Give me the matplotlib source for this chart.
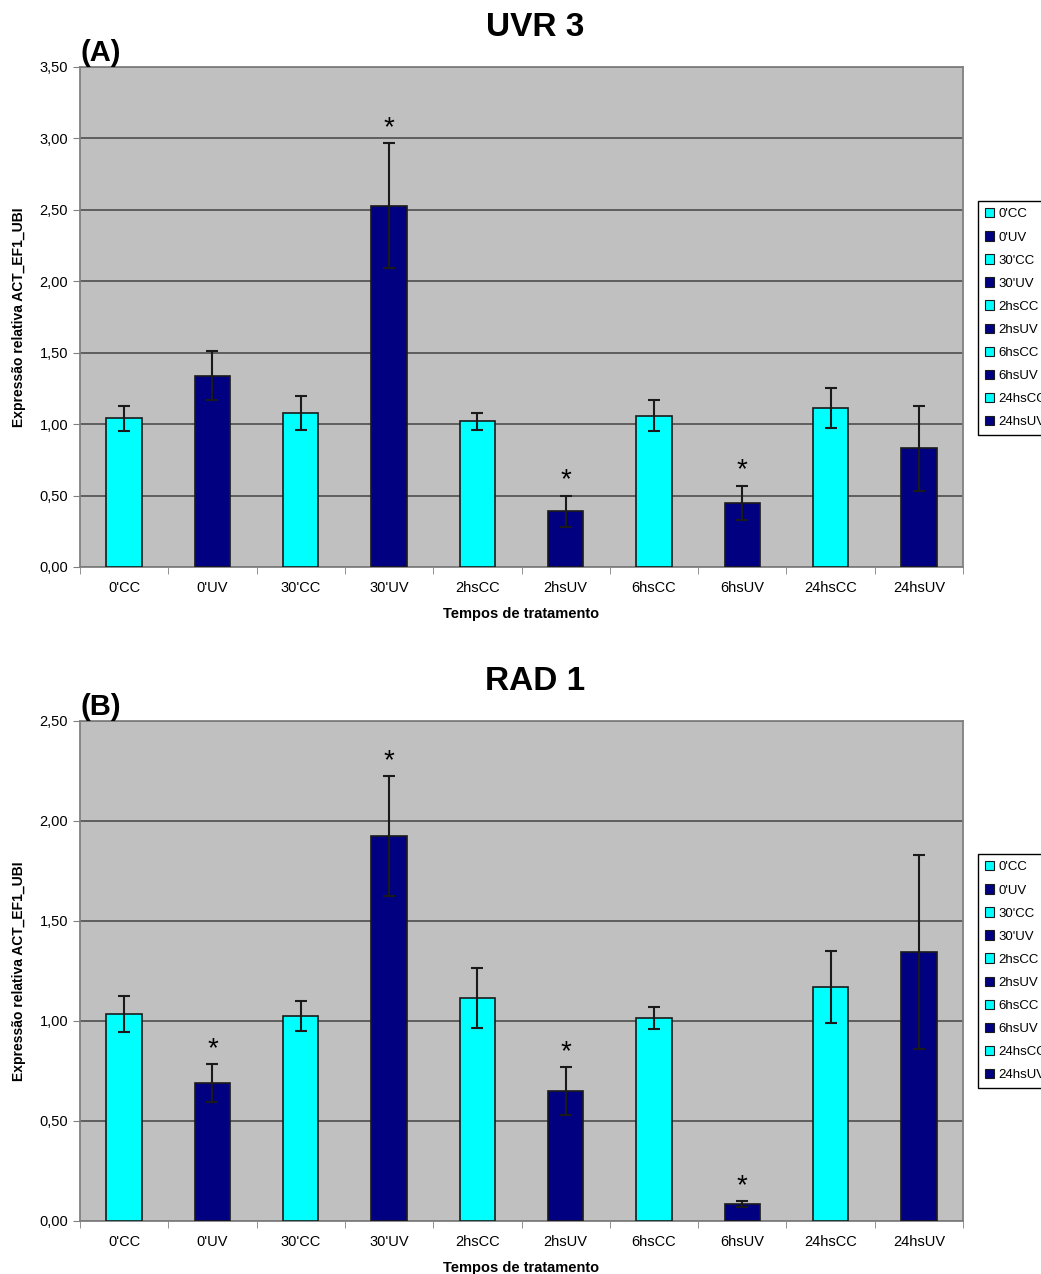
import matplotlib

matplotlib.use("Agg")
import matplotlib.pyplot as plt
from matplotlib.patches import Patch
from matplotlib.ticker import FuncFormatter, MultipleLocator

plt.rcParams["font.family"] = ["Liberation Sans", "DejaVu Sans"]

CATEGORIES = ["0'CC", "0'UV", "30'CC", "30'UV", "2hsCC", "2hsUV", "6hsCC", "6hsUV", "24hsCC", "24hsUV"]

UVR3_VALUES = [1.04, 1.34, 1.08, 2.53, 1.02, 0.39, 1.06, 0.45, 1.11, 0.83]
UVR3_ERRORS = [0.09, 0.17, 0.12, 0.44, 0.06, 0.11, 0.11, 0.12, 0.14, 0.30]
UVR3_STARS = ["30'UV", "2hsUV", "6hsUV"]

RAD1_VALUES = [1.035, 0.69, 1.025, 1.925, 1.115, 0.65, 1.015, 0.085, 1.17, 1.345]
RAD1_ERRORS = [0.09, 0.095, 0.075, 0.30, 0.15, 0.12, 0.055, 0.015, 0.18, 0.485]
RAD1_STARS = ["0'UV", "30'UV", "2hsUV", "6hsUV"]

CYAN = "#00FFFF"
NAVY = "#000080"
BG = "#C0C0C0"
W, H = 1041, 1274


def comma(v, pos):
    return f"{v:.2f}".replace(".", ",")


def panel(ax, values, errors, stars, ymax, title, letter, title_y):
    colors = [CYAN if c.endswith("CC") else NAVY for c in CATEGORIES]
    x = list(range(len(CATEGORIES)))
    ax.set_facecolor(BG)
    ax.bar(x, values, 0.4, color=colors, edgecolor="#1a1a1a", linewidth=1.2, zorder=3)
    ax.errorbar(x, values, yerr=errors, fmt="none", ecolor="#1a1a1a", elinewidth=1.5, capsize=4, capthick=1.5, zorder=4)
    for c in stars:
        i = CATEGORIES.index(c)
        ax.text(i, values[i] + errors[i] + ymax * 0.004, "*", ha="center", va="bottom", fontsize=20, zorder=5)
    ax.set_xlim(-0.5, len(CATEGORIES) - 0.5)
    ax.set_ylim(0, ymax)
    ax.yaxis.set_major_locator(MultipleLocator(0.5))
    ax.yaxis.set_major_formatter(FuncFormatter(comma))
    ax.grid(axis="y", color="#4d4d4d", linewidth=1.2, zorder=1)
    ax.set_xticks(x)
    ax.set_xticklabels(CATEGORIES)
    ax.set_xticks([i + 0.5 for i in range(-1, len(CATEGORIES))], minor=True)
    ax.tick_params(axis="x", which="major", length=0, labelsize=10.5, pad=10)
    ax.tick_params(axis="x", which="minor", length=5, color="#808080")
    ax.tick_params(axis="y", length=5, color="#808080", labelsize=10.5)
    for s in ax.spines.values():
        s.set_color("#808080")
        s.set_linewidth(1.3)
    ax.set_ylabel("Expressão relativa ACT_EF1_UBI", fontsize=10, fontweight="bold", labelpad=10)
    ax.set_xlabel("Tempos de tratamento", fontsize=10.5, fontweight="bold", labelpad=9)
    fig.text(535 / W, title_y, title, fontsize=24, fontweight="bold", ha="center", va="center")
    ax.text(0.0, 1.0, letter, transform=ax.transAxes, fontsize=21, fontweight="bold", ha="left", va="bottom")


fig = plt.figure(figsize=(W / 100, H / 100), dpi=100)
ax1 = fig.add_axes([80 / W, (H - 567) / H, 883 / W, 500 / H])
ax2 = fig.add_axes([80 / W, (H - 1221) / H, 883 / W, 500 / H])

panel(ax1, UVR3_VALUES, UVR3_ERRORS, UVR3_STARS, 3.5, "UVR 3", "(A)", (H - 27) / H)
panel(ax2, RAD1_VALUES, RAD1_ERRORS, RAD1_STARS, 2.5, "RAD 1", "(B)", (H - 681) / H)

handles = [Patch(facecolor=CYAN if c.endswith("CC") else NAVY, edgecolor="#1a1a1a", linewidth=0.8) for c in CATEGORIES]
for ax, top in [(ax1, 201), (ax2, 854)]:
    fig.legend(
        handles, CATEGORIES, loc="upper left", bbox_to_anchor=(978 / W, (H - top) / H),
        fontsize=9.5, frameon=True, fancybox=False, edgecolor="#000000", framealpha=1,
        handlelength=0.7, handleheight=0.7, handletextpad=0.3, labelspacing=0.82, borderpad=0.55,
        borderaxespad=0,
    )

fig.savefig("out.png", dpi=100)
